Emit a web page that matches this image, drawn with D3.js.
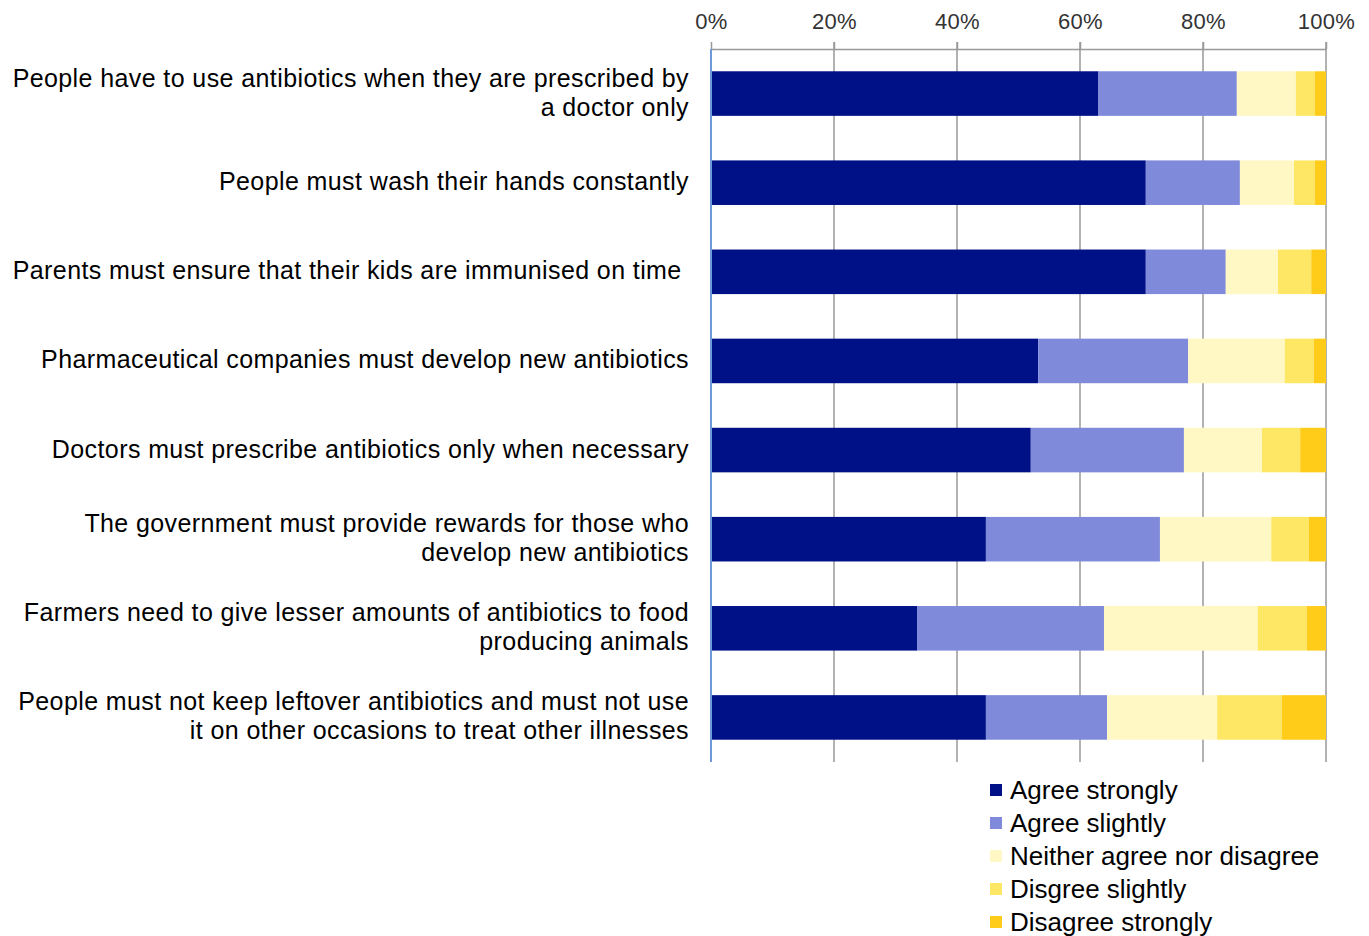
<!DOCTYPE html>
<html>
<head>
<meta charset="utf-8">
<script src="https://cdn.jsdelivr.net/npm/d3@7"></script>
<style>
  body { margin: 0; background: #fff; }
  svg text { font-family: "Liberation Sans", Arial, sans-serif; }
</style>
</head>
<body>
<svg id="chart" width="1369" height="936"></svg>
<script>
// statements (each label split into its lines)
const statements = [
  ["People have to use antibiotics when they are prescribed by", "a doctor only"],
  ["People must wash their hands constantly"],
  ["Parents must ensure that their kids are immunised on time\u00a0"],
  ["Pharmaceutical companies must develop new antibiotics"],
  ["Doctors must prescribe antibiotics only when necessary"],
  ["The government must provide rewards for those who", "develop new antibiotics"],
  ["Farmers need to give lesser amounts of antibiotics to food", "producing animals"],
  ["People must not keep leftover antibiotics and must not use", "it on other occasions to treat other illnesses"]
];
const responses = ["Agree strongly", "Agree slightly", "Neither agree nor disagree", "Disgree slightly", "Disagree strongly"];
// percent per response, one entry per statement
const agreeStrongly    = [63.0, 70.7, 70.7, 53.2, 52.0, 44.7, 33.5, 44.7];
const agreeSlightly    = [22.5, 15.3, 13.0, 24.4, 24.9, 28.3, 30.4, 19.7];
const neither          = [ 9.6,  8.8,  8.5, 15.7, 12.7, 18.1, 25.0, 17.9];
const disagreeSlightly = [ 3.1,  3.4,  5.4,  4.7,  6.2,  6.1,  8.0, 10.5];
const disagreeStrongly = [ 1.8,  1.8,  2.4,  2.0,  4.2,  2.8,  3.1,  7.2];
const xTicks = [0, 20, 40, 60, 80, 100];

const colors = ["#001087", "#7f8ada", "#fff8c4", "#ffe766", "#ffcc1a"];
const seriesVals = [agreeStrongly, agreeSlightly, neither, disagreeSlightly, disagreeStrongly];

const rows = statements.map((s, i) => {
  const r = { key: i };
  responses.forEach((k, j) => { r[k] = seriesVals[j][i]; });
  return r;
});

const svg = d3.select("#chart");
const plotLeft = 711, plotRight = 1326, plotTop = 49, plotBottom = 762;

const x = d3.scaleLinear().domain([0, 100]).range([plotLeft, plotRight]);
const y = d3.scaleBand().domain(d3.range(statements.length)).range([plotTop, plotBottom]).paddingInner(0.5).paddingOuter(0.25);

// gridlines
svg.append("g")
  .selectAll("line")
  .data(xTicks.slice(1))
  .join("line")
  .attr("x1", d => x(d)).attr("x2", d => x(d))
  .attr("y1", plotTop - 7).attr("y2", plotBottom)
  .attr("stroke", "#999").attr("stroke-width", 1.5);

// top axis
const xAxis = svg.append("g")
  .attr("transform", `translate(0,${plotTop})`)
  .call(d3.axisTop(x).tickValues(xTicks).tickFormat(d => d + "%").tickSize(7).tickSizeOuter(0));
xAxis.select(".domain").attr("stroke", "#999").attr("stroke-width", 1.5);
xAxis.selectAll(".tick line").attr("stroke", "#999").attr("stroke-width", 1.5);
xAxis.selectAll(".tick text")
  .attr("font-size", 22).attr("fill", "#333").attr("dy", "0")
  .attr("y", -20).attr("letter-spacing", 0.3)
  .style("font-family", "'Liberation Sans', Arial, sans-serif");

// stacked bars
const stacked = d3.stack().keys(responses)(rows);
svg.append("g")
  .selectAll("g")
  .data(stacked)
  .join("g")
  .attr("fill", (d, i) => colors[i])
  .selectAll("rect")
  .data(d => d)
  .join("rect")
  .attr("x", d => x(d[0]))
  .attr("width", d => x(d[1]) - x(d[0]))
  .attr("y", d => y(d.data.key))
  .attr("height", y.bandwidth());

// left category axis line
svg.append("line")
  .attr("x1", plotLeft).attr("x2", plotLeft)
  .attr("y1", plotTop).attr("y2", plotBottom)
  .attr("stroke", "#6f9ad8").attr("stroke-width", 2);

// category labels
const lineH = 29;
svg.append("g")
  .selectAll("text")
  .data(statements)
  .join("text")
  .attr("text-anchor", "end")
  .attr("font-size", 25)
  .attr("letter-spacing", 0.4)
  .attr("fill", "#000")
  .style("white-space", "pre")
  .each(function (lines, i) {
    const cy = y(i) + y.bandwidth() / 2;
    const y0 = cy - (lines.length - 1) * lineH / 2;
    d3.select(this).selectAll("tspan")
      .data(lines)
      .join("tspan")
      .attr("x", 689)
      .attr("y", (d, j) => y0 + j * lineH)
      .attr("dy", "0.3em")
      .text(d => d);
  });

// legend
const legend = svg.append("g")
  .selectAll("g")
  .data(responses)
  .join("g")
  .attr("transform", (d, i) => `translate(990,${790 + i * 33})`);
legend.append("rect")
  .attr("x", 0).attr("y", -6).attr("width", 12).attr("height", 12)
  .attr("fill", (d, i) => colors[i]);
legend.append("text")
  .attr("x", 20).attr("dy", "0.33em")
  .attr("font-size", 26)
  .attr("fill", "#000")
  .text(d => d);
</script>
</body>
</html>
